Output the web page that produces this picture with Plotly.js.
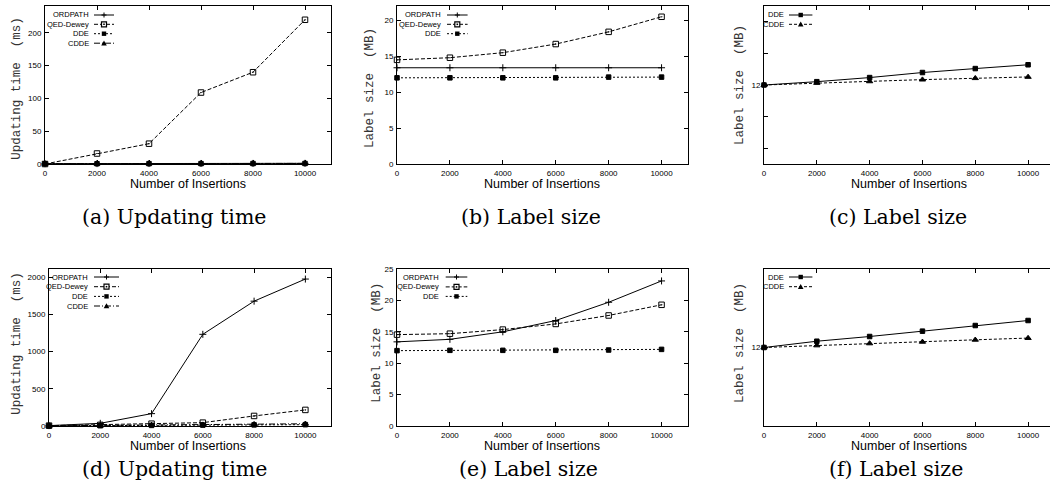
<!DOCTYPE html>
<html>
<head>
<meta charset="utf-8">
<script src="https://cdn.plot.ly/plotly-3.0.1.min.js"></script>
<style>html,body{margin:0;padding:0;background:#fff;}#chart{width:1050px;height:495px;}</style>
</head>
<body>
<div id="chart"></div>
<script>
// ---------------- DATA ----------------
const insertions = [0, 2000, 4000, 6000, 8000, 10000];
const xTickVals = [0, 2000, 4000, 6000, 8000, 10000];

// (a) Updating time (ms)
const timeA_ORDPATH = [0.5, 0.6, 0.7, 0.8, 0.9, 1.0];
const timeA_QEDDewey = [0, 16, 31, 109, 140, 220];
const timeA_DDE = [0.3, 0.4, 0.5, 0.6, 0.7, 0.8];
const timeA_CDDE = [0.4, 0.5, 0.6, 0.7, 0.8, 0.9];
const yTicksA = [0, 50, 100, 150, 200];

// (b) Label size (MB)
const sizeB_ORDPATH = [13.4, 13.4, 13.4, 13.4, 13.4, 13.4];
const sizeB_QEDDewey = [14.5, 14.8, 15.5, 16.7, 18.4, 20.5];
const sizeB_DDE = [12.0, 12.0, 12.0, 12.0, 12.1, 12.1];
const yTicksB = [0, 5, 10, 15, 20];

// (c) Label size (MB)
const sizeC_DDE = [12.0, 12.021, 12.047, 12.079, 12.104, 12.128];
const sizeC_CDDE = [12.0, 12.013, 12.023, 12.034, 12.043, 12.051];
const yTicksC = [11.6, 11.8, 12, 12.2, 12.4];
const yTickTextC = ['', '', '12', '', ''];

// (d) Updating time (ms)
const timeD_ORDPATH = [5, 36, 166, 1231, 1676, 1973];
const timeD_QEDDewey = [5, 15, 31, 45, 135, 216];
const timeD_DDE = [2, 5, 8, 12, 15, 18];
const timeD_CDDE = [3, 8, 13, 18, 24, 30];
const yTicksD = [0, 500, 1000, 1500, 2000];

// (e) Label size (MB)
const sizeE_ORDPATH = [13.4, 13.8, 15.0, 16.8, 19.7, 23.1];
const sizeE_QEDDewey = [14.55, 14.7, 15.35, 16.25, 17.6, 19.3];
const sizeE_DDE = [12.0, 12.05, 12.05, 12.05, 12.1, 12.2];
const yTicksE = [0, 5, 10, 15, 20, 25];

// (f) Label size (MB)
const sizeF_DDE = [12.0, 12.04, 12.07, 12.104, 12.14, 12.172];
const sizeF_CDDE = [12.0, 12.013, 12.026, 12.036, 12.049, 12.06];
const yTicksF = [12];
const yTickTextF = ['12'];

const captions = ['(a) Updating time', '(b) Label size', '(c) Label size',
                  '(d) Updating time', '(e) Label size', '(f) Label size'];
const xTitle = 'Number of Insertions';
const yTitleTime = 'Updating time  (ms)';
const yTitleSize = 'Label size  (MB)';

// ---------------- LAYOUT GEOMETRY (pixels) ----------------
const W = 1050, H = 495;
const panels = {
  a: {x0: 45,  x1: 331,  y0: 6,   y1: 164, xr: [0, 11000], yr: [0, 241]},
  b: {x0: 397, x1: 688,  y0: 6,   y1: 164, xr: [0, 11000], yr: [0, 22]},
  c: {x0: 764, x1: 1050, y0: 6,   y1: 164, xr: [0, 10830], yr: [11.5, 12.5]},
  d: {x0: 49,  x1: 331,  y0: 269, y1: 426, xr: [0, 11000], yr: [0, 2108]},
  e: {x0: 397, x1: 688,  y0: 269, y1: 426, xr: [0, 11000], yr: [0, 25]},
  f: {x0: 764, x1: 1050, y0: 269, y1: 426, xr: [0, 10830], yr: [11.5, 12.5]}
};
const PX = p => p / W;
const PY = p => 1 - p / H;

// styles
const ST = {
  ORDPATH: {dash: 'solid', symbol: 'cross-thin-open', size: 5, lw: 1, leg: 'cross'},
  QED: {dash: '4px,2px', symbol: 'square-open-dot', size: 5.5, lw: 1, leg: 'sqopen'},
  DDE: {dash: '2px,2px', symbol: 'square', size: 4.5, lw: 1, leg: 'sqfill'},
  CDDE: {dash: '6px,2px,1px,2px', symbol: 'triangle-up', size: 5.5, lw: 1, leg: 'tri'},
  DDE2: {dash: 'solid', symbol: 'square', size: 4.5, lw: 1, leg: 'sqfill'},
  CDDE2: {dash: '3px,2px', symbol: 'triangle-up', size: 5.5, lw: 1, leg: 'tri'}
};

function trace(x, y, name, k, st) {
  return {
    x: x, y: y, name: name, type: 'scatter', mode: 'lines+markers',
    xaxis: 'x' + (k === 1 ? '' : k), yaxis: 'y' + (k === 1 ? '' : k),
    line: {color: '#000', width: st.lw, dash: st.dash},
    marker: {symbol: st.symbol, size: st.size, color: '#000', line: {color: '#000', width: 1}},
    cliponaxis: false, showlegend: false, hoverinfo: 'x+y+name'
  };
}

const data = [
  trace(insertions, timeA_ORDPATH, 'ORDPATH', 1, ST.ORDPATH),
  trace(insertions, timeA_QEDDewey, 'QED-Dewey', 1, ST.QED),
  trace(insertions, timeA_DDE, 'DDE', 1, ST.DDE),
  trace(insertions, timeA_CDDE, 'CDDE', 1, ST.CDDE),
  trace(insertions, sizeB_ORDPATH, 'ORDPATH', 2, ST.ORDPATH),
  trace(insertions, sizeB_QEDDewey, 'QED-Dewey', 2, ST.QED),
  trace(insertions, sizeB_DDE, 'DDE', 2, ST.DDE),
  trace(insertions, sizeC_DDE, 'DDE', 3, ST.DDE2),
  trace(insertions, sizeC_CDDE, 'CDDE', 3, ST.CDDE2),
  trace(insertions, timeD_ORDPATH, 'ORDPATH', 4, ST.ORDPATH),
  trace(insertions, timeD_QEDDewey, 'QED-Dewey', 4, ST.QED),
  trace(insertions, timeD_DDE, 'DDE', 4, ST.DDE),
  trace(insertions, timeD_CDDE, 'CDDE', 4, ST.CDDE),
  trace(insertions, sizeE_ORDPATH, 'ORDPATH', 5, ST.ORDPATH),
  trace(insertions, sizeE_QEDDewey, 'QED-Dewey', 5, ST.QED),
  trace(insertions, sizeE_DDE, 'DDE', 5, ST.DDE),
  trace(insertions, sizeF_DDE, 'DDE', 6, ST.DDE2),
  trace(insertions, sizeF_CDDE, 'CDDE', 6, ST.CDDE2)
];

const tickFont = {family: 'Liberation Sans, Arial, sans-serif', size: 8, color: '#000'};
function axisBase(p, isX) {
  return {
    domain: isX ? [PX(p.x0), PX(p.x1)] : [PY(p.y1), PY(p.y0)],
    range: isX ? p.xr : p.yr,
    showline: true, linecolor: '#000', linewidth: 1, mirror: 'ticks',
    ticks: 'inside', ticklen: 4, tickwidth: 1, tickcolor: '#000',
    tickfont: tickFont, showgrid: false, zeroline: false, fixedrange: true,
    ticklabelstandoff: 1
  };
}

const layout = {
  width: W, height: H, margin: {l: 0, r: 0, t: 0, b: 0},
  paper_bgcolor: '#fff', plot_bgcolor: '#fff', showlegend: false,
  annotations: [], shapes: []
};
const keys = ['a', 'b', 'c', 'd', 'e', 'f'];
const yTickSets = [
  [yTicksA, yTicksA.map(String)], [yTicksB, yTicksB.map(String)], [yTicksC, yTickTextC],
  [yTicksD, yTicksD.map(String)], [yTicksE, yTicksE.map(String)], [yTicksF, yTickTextF]
];
keys.forEach((k, i) => {
  const p = panels[k];
  const n = i === 0 ? '' : String(i + 1);
  const xa = axisBase(p, true);
  xa.tickmode = 'array'; xa.tickvals = xTickVals; xa.ticktext = xTickVals.map(String);
  xa.anchor = 'y' + n;
  const ya = axisBase(p, false);
  ya.tickmode = 'array'; ya.tickvals = yTickSets[i][0]; ya.ticktext = yTickSets[i][1];
  ya.anchor = 'x' + n;
  if (k === 'c' || k === 'f') ya.mirror = false;  // right border lies outside the picture
  layout['xaxis' + n] = xa;
  layout['yaxis' + n] = ya;
});

// axis titles & captions
const titlePos = {
  a: {xc: 188, yx: 16.7, yy: 88, yt: yTitleTime, xy: 183.5, cx: 174, cy: 216.5},
  b: {xc: 542, yx: 370, yy: 88, yt: yTitleSize, xy: 183.5, cx: 531, cy: 216.5},
  c: {xc: 909, yx: 740, yy: 85, yt: yTitleSize, xy: 183.5, cx: 898, cy: 216.5},
  d: {xc: 188, yx: 16.7, yy: 343, yt: yTitleTime, xy: 446, cx: 174, cy: 468.5},
  e: {xc: 542, yx: 376.7, yy: 343, yt: yTitleSize, xy: 446, cx: 528, cy: 468.5},
  f: {xc: 909, yx: 740, yy: 343, yt: yTitleSize, xy: 446, cx: 896, cy: 468.5}
};
keys.forEach((k, i) => {
  const t = titlePos[k];
  layout.annotations.push({
    text: xTitle, xref: 'paper', yref: 'paper', x: PX(t.xc), y: PY(t.xy),
    xanchor: 'center', yanchor: 'middle', showarrow: false,
    font: {family: 'Liberation Sans, Arial, sans-serif', size: 12.5, color: '#000'}
  });
  layout.annotations.push({
    text: t.yt, xref: 'paper', yref: 'paper', x: PX(t.yx), y: PY(t.yy),
    xanchor: 'center', yanchor: 'middle', showarrow: false, textangle: -90,
    font: {family: 'Liberation Mono, Courier New, monospace', size: 12.5, color: '#333'}
  });
  layout.annotations.push({
    text: captions[i], xref: 'paper', yref: 'paper', x: PX(t.cx), y: PY(t.cy),
    xanchor: 'center', yanchor: 'middle', showarrow: false,
    font: {family: 'DejaVu Serif, Liberation Serif, serif', size: 20.5, color: '#000'}
  });
});

// legends (text then line sample, gnuplot style)
function legendSample(cx, cy, kind) {
  const S = layout.shapes;
  const blk = {color: '#000', width: 1};
  if (kind === 'cross') {
    S.push({type: 'line', xref: 'paper', yref: 'paper', x0: PX(cx - 2.5), x1: PX(cx + 2.5), y0: PY(cy), y1: PY(cy), line: blk});
    S.push({type: 'line', xref: 'paper', yref: 'paper', x0: PX(cx), x1: PX(cx), y0: PY(cy - 2.5), y1: PY(cy + 2.5), line: blk});
  } else if (kind === 'sqopen') {
    S.push({type: 'rect', xref: 'paper', yref: 'paper', x0: PX(cx - 2.5), x1: PX(cx + 2.5), y0: PY(cy + 2.5), y1: PY(cy - 2.5), line: {color: '#000', width: 1.2}, fillcolor: '#fff'});
    S.push({type: 'rect', xref: 'paper', yref: 'paper', x0: PX(cx - 0.8), x1: PX(cx + 0.8), y0: PY(cy + 0.8), y1: PY(cy - 0.8), line: {width: 0}, fillcolor: '#000'});
  } else if (kind === 'sqfill') {
    S.push({type: 'rect', xref: 'paper', yref: 'paper', x0: PX(cx - 2.2), x1: PX(cx + 2.2), y0: PY(cy + 2.2), y1: PY(cy - 2.2), line: {width: 0}, fillcolor: '#000'});
  } else if (kind === 'tri') {
    const path = 'M' + PX(cx - 2.8) + ',' + PY(cy + 2.2) + ' L' + PX(cx + 2.8) + ',' + PY(cy + 2.2) + ' L' + PX(cx) + ',' + PY(cy - 2.8) + ' Z';
    S.push({type: 'path', xref: 'paper', yref: 'paper', path: path, line: {width: 0}, fillcolor: '#000'});
  }
}
function addLegend(p, entries, textR, l0, l1, rows) {
  entries.forEach((e, j) => {
    const cy = p.y0 + rows[j];
    layout.annotations.push({
      text: e.name, xref: 'paper', yref: 'paper', x: PX(p.x0 + textR), y: PY(cy),
      xanchor: 'right', yanchor: 'middle', showarrow: false,
      font: {family: 'Liberation Sans, Arial, sans-serif', size: 7.5, color: '#000'}
    });
    layout.shapes.push({type: 'line', xref: 'paper', yref: 'paper',
      x0: PX(p.x0 + l0), x1: PX(p.x0 + l1), y0: PY(cy), y1: PY(cy),
      line: {color: '#000', width: 1, dash: e.st.dash}});
    legendSample(p.x0 + (l0 + l1) / 2, cy, e.st.leg);
  });
}
const leg4 = [{name: 'ORDPATH', st: ST.ORDPATH}, {name: 'QED-Dewey', st: ST.QED}, {name: 'DDE', st: ST.DDE}, {name: 'CDDE', st: ST.CDDE}];
const leg3 = leg4.slice(0, 3);
const leg2 = [{name: 'DDE', st: ST.DDE2}, {name: 'CDDE', st: ST.CDDE2}];
addLegend(panels.a, leg4, 46, 49, 69, [9, 18.3, 27.7, 37.2]);
addLegend(panels.b, leg3, 45.6, 50, 70.6, [9, 18.3, 27.7]);
addLegend(panels.c, leg2, 21.7, 25, 48.4, [9, 18.3]);
addLegend(panels.d, leg4, 41, 45, 70, [8, 17.7, 27.4, 37]);
addLegend(panels.e, leg3, 43.7, 48.7, 70.3, [8, 17.9, 27.4]);
addLegend(panels.f, leg2, 21.7, 25, 48.4, [8, 17.7]);

Plotly.newPlot('chart', data, layout, {displayModeBar: false, staticPlot: true});
</script>
</body>
</html>
